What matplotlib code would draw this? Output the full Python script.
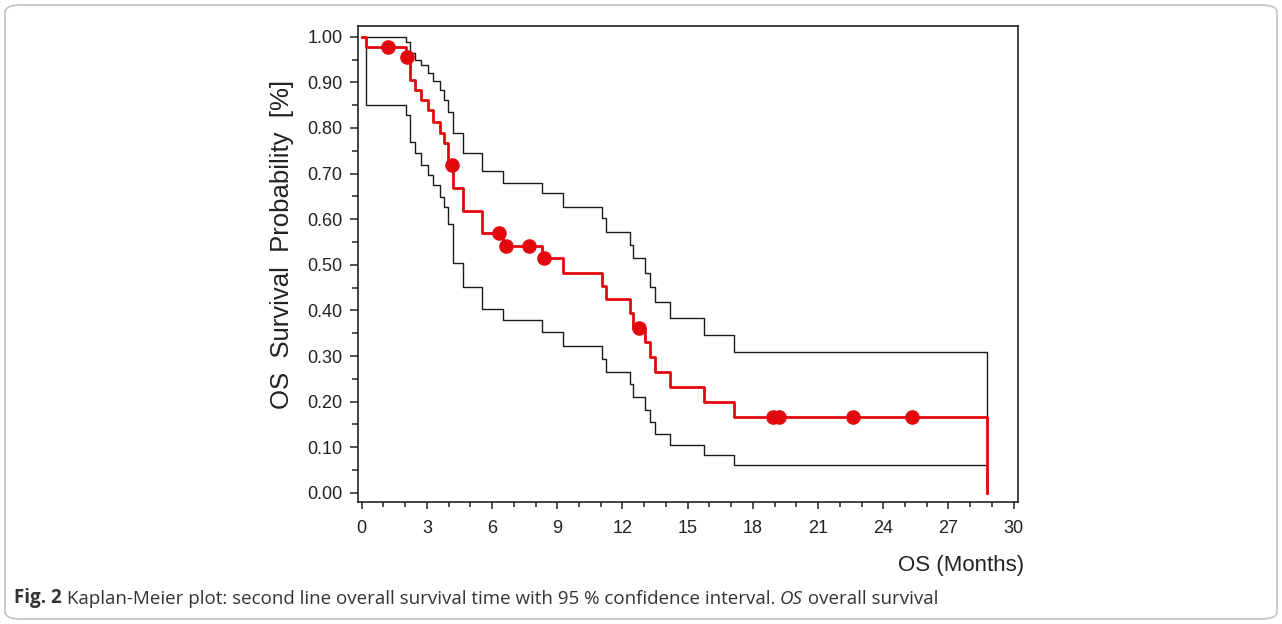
import matplotlib
matplotlib.use("Agg")
import matplotlib.pyplot as plt
from matplotlib.patches import FancyBboxPatch
from matplotlib.ticker import MultipleLocator, FormatStrFormatter

# event times (months) and survival estimates
times = [0, 0.2, 2.06, 2.21, 2.44, 2.75, 3.05, 3.28, 3.59, 3.77, 3.97, 4.2, 4.66,
         5.55, 6.5, 8.3, 9.25, 11.05, 11.25, 12.33, 12.5, 13.02, 13.25, 13.5,
         14.17, 15.77, 17.13, 28.78]
surv = [1.0, 0.978, 0.955, 0.905, 0.883, 0.861, 0.839, 0.814, 0.788, 0.766, 0.719,
        0.669, 0.618, 0.569, 0.542, 0.514, 0.483, 0.453, 0.424, 0.394, 0.362,
        0.331, 0.298, 0.265, 0.232, 0.199, 0.166, 0.0]
upper = [1.0, 1.0, 0.988, 0.965, 0.950, 0.939, 0.920, 0.903, 0.883, 0.861, 0.836,
         0.788, 0.746, 0.705, 0.680, 0.657, 0.627, 0.602, 0.572, 0.543, 0.514,
         0.481, 0.452, 0.418, 0.384, 0.347, 0.309, 0.0]
lower = [1.0, 0.850, 0.828, 0.770, 0.744, 0.719, 0.697, 0.675, 0.649, 0.627, 0.590,
         0.503, 0.452, 0.404, 0.380, 0.352, 0.322, 0.293, 0.265, 0.238, 0.211,
         0.181, 0.156, 0.130, 0.106, 0.083, 0.062, 0.0]

# censored observations
cens_t = [1.21, 2.1, 4.17, 6.3, 6.65, 7.7, 8.38, 12.76, 18.93, 19.2, 22.6, 25.3]
cens_s = [0.978, 0.955, 0.719, 0.569, 0.542, 0.542, 0.514, 0.362, 0.166, 0.166, 0.166, 0.166]

plt.rcParams['font.family'] = ['Liberation Sans', 'DejaVu Sans']

fig = plt.figure(figsize=(12.82, 6.24), dpi=100)
ax = fig.add_axes([358 / 1282, 1 - 502 / 624, 660 / 1282, 476 / 624])

ax.step(times, upper, where='post', color='#1a1a1a', lw=1.0)
ax.step(times, lower, where='post', color='#1a1a1a', lw=1.0)
ax.step(times, surv, where='post', color='#e3080e', lw=2.0)
ax.plot(cens_t, cens_s, 'o', color='#e3080e', ms=9.5, mec='#e3080e')

ax.set_xlim(-0.17, 30.2)
ax.set_ylim(-0.02, 1.0235)
ax.xaxis.set_major_locator(MultipleLocator(3))
ax.xaxis.set_minor_locator(MultipleLocator(1))
ax.yaxis.set_major_locator(MultipleLocator(0.1))
ax.yaxis.set_minor_locator(MultipleLocator(0.05))
ax.yaxis.set_major_formatter(FormatStrFormatter('%.2f'))

ax.tick_params(axis='both', which='both', direction='out', colors='#222222',
               labelsize=13, width=1.1)
ax.tick_params(axis='y', which='major', length=6, pad=5)
ax.tick_params(axis='y', which='minor', length=4)
ax.tick_params(axis='x', which='major', length=5, pad=8)
ax.tick_params(axis='x', which='minor', length=3.5)
for sp in ax.spines.values():
    sp.set_color('#222222')
    sp.set_linewidth(1.2)

fig.text(282 / 1282, 1 - 244 / 624, 'OS  Survival  Probability  [%]', rotation=90,
         ha='center', va='center', fontsize=18.5, color='#222222')
fig.text(1024 / 1282, 1 - 565 / 624, 'OS (Months)', ha='right', va='center',
         fontsize=16, color='#222222')

# rounded frame around the figure
frame = FancyBboxPatch((5 / 1282, 5 / 624), 1272 / 1282, 614 / 624,
                       boxstyle='round,pad=0,rounding_size=0.012',
                       transform=fig.transFigure, fill=False,
                       edgecolor='#c4c4c4', lw=1.2)
fig.add_artist(frame)

# caption
cap = dict(fontsize=13.5, color='#333333', family=['Open Sans', 'DejaVu Sans'])
t1 = fig.text(14 / 1282, 16 / 624, 'Fig. 2', weight='bold', va='bottom', **cap)
t2 = ax.annotate(' Kaplan-Meier plot: second line overall survival time with 95 % '
                 'confidence interval. ', xy=(1, 0), xycoords=t1,
                 va='bottom', ha='left', annotation_clip=False, **cap)
t3 = ax.annotate('OS', xy=(1, 0), xycoords=t2, va='bottom', ha='left',
                 style='italic', annotation_clip=False, **cap)
ax.annotate(' overall survival', xy=(1, 0), xycoords=t3, va='bottom', ha='left',
            annotation_clip=False, **cap)

plt.savefig('out.png', dpi=100)
